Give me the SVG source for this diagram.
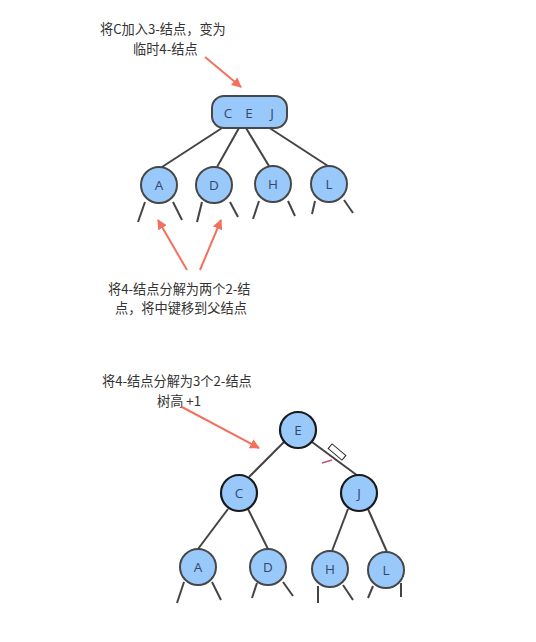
<svg xmlns="http://www.w3.org/2000/svg" width="536" height="642" viewBox="0 0 536 642">
<defs>
<style>
.lbl{font-family:"Noto Sans CJK SC","Noto Sans",sans-serif;font-size:13.2px;fill:#333}
.key{font-family:"Open Sans","Liberation Sans",sans-serif;font-size:13.5px;fill:#34476a;text-anchor:middle;dominant-baseline:central}
.leaf{fill:#99c9fb;stroke:#474747;stroke-width:2}
.inner{fill:#99c9fb;stroke:#1a1a1a;stroke-width:2.2}
.edge{stroke:#444;stroke-width:2;fill:none}
.arr{stroke:#f4705e;stroke-width:2;fill:none;marker-end:url(#ah)}
</style>
<marker id="ah" viewBox="0 0 10 10" refX="9" refY="5" markerWidth="5" markerHeight="5" orient="auto" markerUnits="strokeWidth">
<path d="M0,0 L10,5 L0,10 z" fill="#f4705e"/>
</marker>
</defs>
<rect width="536" height="642" fill="#fff"/>

<g id="labels">
<text class="lbl" x="100" y="34"><tspan x="100">将C加入3-结点，变为</tspan><tspan x="133" dy="19.5">临时4-结点</tspan></text>
<text class="lbl" x="108" y="293.5"><tspan x="108">将4-结点分解为两个2-结</tspan><tspan x="115" dy="19.5">点，将中键移到父结点</tspan></text>
<text class="lbl" x="102" y="386"><tspan x="102">将4-结点分解为3个2-结点</tspan><tspan x="157" dy="19.5">树高 +1</tspan></text>
</g>

<g id="connectors">
<line class="arr" x1="205" y1="57" x2="241" y2="87"/>
<line class="arr" x1="187" y1="270" x2="158" y2="220"/>
<line class="arr" x1="200" y1="270" x2="221" y2="220"/>
<line class="arr" x1="182" y1="407" x2="259" y2="448"/>

<line class="edge" x1="222" y1="128" x2="162" y2="167"/>
<line class="edge" x1="239" y1="128" x2="217" y2="167"/>
<line class="edge" x1="246" y1="128" x2="269" y2="166"/>
<line class="edge" x1="268" y1="127" x2="328" y2="166"/>

<line class="edge" x1="145" y1="202" x2="138" y2="222"/>
<line class="edge" x1="173" y1="202" x2="182" y2="220"/>
<line class="edge" x1="202" y1="202" x2="197" y2="222"/>
<line class="edge" x1="230" y1="202" x2="238" y2="217"/>
<line class="edge" x1="259" y1="201" x2="253" y2="219"/>
<line class="edge" x1="288" y1="201" x2="295" y2="216"/>
<line class="edge" x1="315" y1="201" x2="312" y2="214"/>
<line class="edge" x1="344" y1="200" x2="353" y2="213"/>

<line class="edge" x1="284" y1="442" x2="249" y2="477"/>
<line class="edge" x1="312" y1="442" x2="358" y2="476"/>
<line class="edge" x1="228" y1="509" x2="198" y2="549"/>
<line class="edge" x1="248" y1="509" x2="268" y2="549"/>
<line class="edge" x1="348" y1="509" x2="332" y2="551"/>
<line class="edge" x1="368" y1="509" x2="387" y2="552"/>

<line class="edge" x1="184" y1="582" x2="177" y2="603"/>
<line class="edge" x1="212" y1="582" x2="221" y2="600"/>
<line class="edge" x1="257" y1="583" x2="252" y2="598"/>
<line class="edge" x1="283" y1="582" x2="293" y2="596"/>
<line class="edge" x1="318" y1="586" x2="318" y2="603"/>
<line class="edge" x1="343" y1="585" x2="353" y2="600"/>
<line class="edge" x1="373" y1="586" x2="368" y2="598"/>
<line class="edge" x1="401" y1="583" x2="401" y2="597"/>
</g>

<g id="node-CEJ">
<rect class="leaf" x="212" y="96" width="75" height="32" rx="12"/>
<text class="key" x="228" y="113">C</text>
<text class="key" x="249" y="113">E</text>
<text class="key" x="272" y="113">J</text>
</g>
<g id="node-A1"><circle class="leaf" cx="159" cy="185" r="18"/><text class="key" x="159" y="185">A</text></g>
<g id="node-D1"><circle class="leaf" cx="214" cy="185" r="18"/><text class="key" x="214" y="185">D</text></g>
<g id="node-H1"><circle class="leaf" cx="273" cy="184" r="18"/><text class="key" x="273" y="184">H</text></g>
<g id="node-L1"><circle class="leaf" cx="329" cy="184" r="18"/><text class="key" x="329" y="184">L</text></g>

<g id="node-E"><circle class="inner" cx="298" cy="430" r="18"/><text class="key" x="298" y="430">E</text></g>
<g id="node-C"><circle class="inner" cx="239" cy="493" r="18"/><text class="key" x="239" y="493">C</text></g>
<g id="node-J"><circle class="inner" cx="359" cy="493" r="18"/><text class="key" x="359" y="493">J</text></g>
<g id="node-A2"><circle class="leaf" cx="198" cy="567" r="18"/><text class="key" x="198" y="567">A</text></g>
<g id="node-D2"><circle class="leaf" cx="268" cy="567" r="18"/><text class="key" x="268" y="567">D</text></g>
<g id="node-H2"><circle class="leaf" cx="330" cy="569" r="18"/><text class="key" x="330" y="569">H</text></g>
<g id="node-L2"><circle class="leaf" cx="386" cy="570" r="18"/><text class="key" x="386" y="570">L</text></g>

<g id="marks">
<line x1="322" y1="463" x2="332" y2="460" stroke="#c8506e" stroke-width="1.5"/>
<rect x="-9" y="-3" width="18" height="6" fill="#fff" stroke="#222" stroke-width="1" transform="translate(337 452) rotate(40)"/>
</g>
</svg>
